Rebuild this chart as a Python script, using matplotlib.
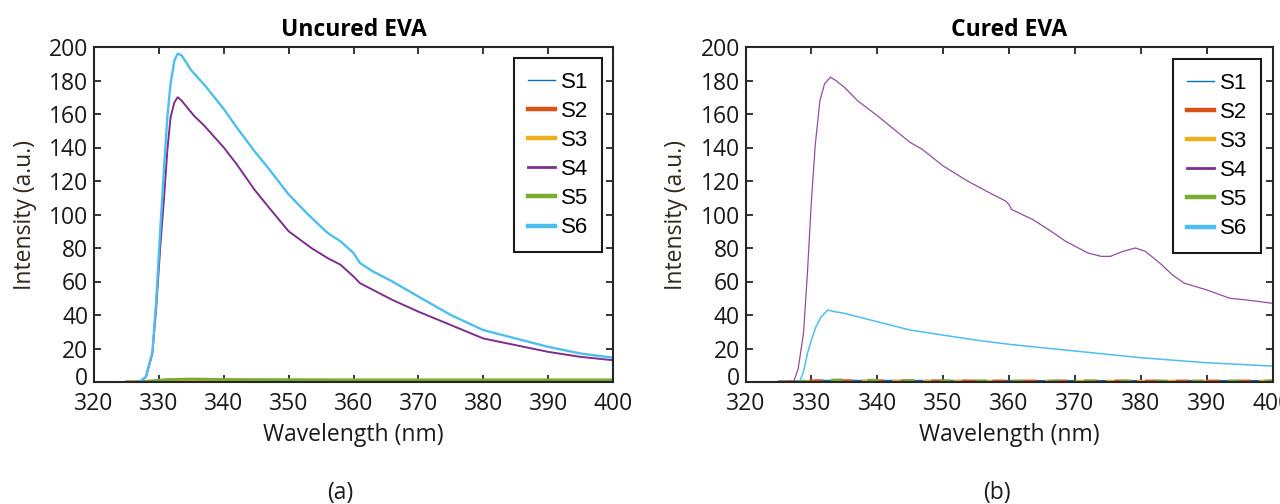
import matplotlib
matplotlib.use("Agg")
import matplotlib.pyplot as plt
from matplotlib.lines import Line2D
from matplotlib.transforms import ScaledTranslation

# ---------------- data ----------------
# Uncured EVA
u_s6_x = [325, 327, 328, 329, 329.6, 330.2, 330.8, 331.3, 331.8, 332.4, 332.9, 333.5, 335, 337.1, 340, 342, 344.7, 347, 350, 353, 356, 358, 360, 361, 363, 366, 370, 375, 380, 385, 390, 395, 400]
u_s6_y = [0, 0, 3, 18, 49, 90, 128, 158, 178, 192, 196, 195, 186, 177, 163, 152, 138, 127, 112, 100, 89, 84, 77, 71, 66, 60, 51, 40, 31, 26, 21, 17, 14.5]
u_s4_x = [325, 327, 328, 329, 329.6, 330.2, 330.8, 331.3, 331.8, 332.4, 332.9, 333.5, 335.4, 337, 340, 342, 344.7, 347, 350, 353.5, 356, 358, 360, 361, 363, 366, 370, 375, 380, 385, 390, 395, 400]
u_s4_y = [0, 0, 3, 17, 45, 80, 110, 138, 158, 167, 170, 168, 159, 153, 140, 130, 115, 104, 90, 80, 74, 70, 63, 59, 55, 49, 42, 34, 26, 22, 18, 15, 13]
u_s1_x = [325, 328, 331, 340, 360, 380, 400]
u_s1_y = [0, 0.3, 0.6, 0.6, 0.5, 0.5, 0.5]
u_s2_x = [325, 328, 331, 340, 360, 380, 400]
u_s2_y = [0, 0.1, 0.2, 0.2, 0.2, 0.2, 0.2]
u_s3_x = [325, 328, 331, 340, 360, 380, 400]
u_s3_y = [0, 0.3, 0.8, 0.9, 0.8, 0.8, 0.8]
u_s5_x = [325, 328, 331, 335, 340, 360, 380, 400]
u_s5_y = [0, 0.4, 1.4, 1.8, 1.5, 1.3, 1.3, 1.3]

# Cured EVA
c_s4_x = [325, 327.3, 328, 328.8, 329.4, 330, 330.6, 331.3, 332, 332.9, 333.7, 335, 337, 340, 342.5, 345, 346.8, 350, 353.7, 357.5, 359.5, 360, 360.4, 363.6, 366, 368.6, 372, 374, 375.4, 377.3, 379.2, 380.7, 382.9, 384.8, 386.6, 390, 393.5, 396, 400]
c_s4_y = [0, 0, 8, 29, 65, 108, 142, 168, 178, 182, 180, 176, 168, 159, 151, 143, 139, 129, 120, 112, 108, 106, 103, 97, 91, 84, 77, 75, 75, 78, 80, 78, 71, 64, 59, 55, 50, 49, 47]
c_s6_x = [325, 328.2, 328.8, 329.4, 330, 330.7, 331.5, 332.5, 333.5, 335, 340, 345, 350, 355, 360, 365, 370, 375, 380, 385, 390, 395, 400]
c_s6_y = [0, 0, 6, 17, 25, 33, 39, 43, 42, 41, 36, 31, 28, 25, 22.5, 20.5, 18.5, 16.5, 14.5, 13, 11.5, 10.5, 9.5]
c_s1_x = [325, 328, 331, 340, 360, 380, 400]
c_s1_y = [0, 0.2, 0.5, 0.5, 0.4, 0.4, 0.4]
c_s2_x = [325, 328, 331, 340, 360, 380, 400]
c_s2_y = [0, 0.3, 0.8, 0.7, 0.6, 0.6, 0.6]
c_s3_x = [325, 328, 331, 340, 360, 380, 400]
c_s3_y = [0, 0.2, 0.6, 0.6, 0.5, 0.5, 0.5]
c_s5_x = [325, 328, 331, 335, 340, 360, 380, 400]
c_s5_y = [0, 0.3, 1.0, 1.3, 1.0, 0.6, 0.6, 0.6]

labels = ["S1", "S2", "S3", "S4", "S5", "S6"]
colors = ["#0072BD", "#D95319", "#EDB120", "#7E2F8E", "#77AC30", "#4DBEEE"]
leg_lw = [1.0, 3.2, 3.2, 2.0, 3.2, 3.2]

xticks = [320, 330, 340, 350, 360, 370, 380, 390, 400]
yticks = [0, 20, 40, 60, 80, 100, 120, 140, 160, 180, 200]

# ---------------- figure ----------------
fig = plt.figure(figsize=(12.8, 5.04), dpi=100)
axL = fig.add_axes([94/1280, 1-382/504, 519/1280, 335/504])
axR = fig.add_axes([745.5/1280, 1-382/504, 527/1280, 335/504])

tickfont = "Open Sans"
axcol = "#262626"
txtcol = "#1a1a1a"

def style(ax, title):
    ax.set_xlim(320, 400)
    ax.set_ylim(0, 200)
    ax.set_xticks(xticks)
    ax.set_yticks(yticks)
    ax.tick_params(direction="in", length=5, width=1.3, top=True, right=True,
                   colors=axcol, labelsize=16.5)
    ax.tick_params(axis="x", pad=7)
    ax.tick_params(axis="y", pad=4)
    for lab in ax.get_xticklabels() + ax.get_yticklabels():
        lab.set_fontfamily(tickfont)
        lab.set_color(txtcol)
    for s in ax.spines.values():
        s.set_linewidth(1.5)
        s.set_color(axcol)
    # the "0" label sits slightly above the axis line, as in the original
    t0 = ax.yaxis.get_major_ticks()[0].label1
    t0.set_transform(t0.get_transform() + ScaledTranslation(0, 4/72, fig.dpi_scale_trans))
    ax.set_title(title, fontfamily="Open Sans", fontweight="bold", fontsize=16.5, pad=8)
    ax.set_xlabel("Wavelength (nm)", fontfamily=tickfont, fontsize=16.5, color=txtcol, labelpad=5)
    ax.set_ylabel("Intensity (a.u.)", fontfamily=tickfont, fontsize=16.5, color="#33261a", labelpad=9)

# Uncured
axL.plot(u_s1_x, u_s1_y, color=colors[0], lw=1.0)
axL.plot(u_s2_x, u_s2_y, color=colors[1], lw=2.0)
axL.plot(u_s3_x, u_s3_y, color=colors[2], lw=2.0)
axL.plot(u_s5_x, u_s5_y, color=colors[4], lw=2.0)
axL.plot(u_s4_x, u_s4_y, color=colors[3], lw=1.4)
axL.plot(u_s6_x, u_s6_y, color=colors[5], lw=1.7)

# Cured
axR.plot(c_s1_x, c_s1_y, color=colors[0], lw=2.0)
axR.plot(c_s2_x, c_s2_y, color=colors[1], lw=2.0, ls=(0, (5, 6)))
axR.plot(c_s3_x, c_s3_y, color=colors[2], lw=2.0, ls=(3, (3, 8)))
axR.plot(c_s5_x, c_s5_y, color=colors[4], lw=2.0, ls=(7, (4, 9)))
axR.plot(c_s4_x, c_s4_y, color=colors[3], lw=0.9, alpha=0.85)
axR.plot(c_s6_x, c_s6_y, color=colors[5], lw=1.1)

style(axL, "Uncured EVA")
style(axR, "Cured EVA")

handles = [Line2D([], [], color=c, lw=w) for c, w in zip(colors, leg_lw)]

for ax, fx, ax_w, anchor in [(axL, 94, 519, (602, 58)), (axR, 745.5, 527, (1261, 59))]:
    bb = ((anchor[0] - fx) / ax_w, (382 - anchor[1]) / 335)
    leg = ax.legend(handles, labels, loc="upper right", bbox_to_anchor=bb,
                    borderaxespad=0, fancybox=False, edgecolor=txtcol,
                    prop={"family": "Liberation Sans", "size": 16},
                    handlelength=1.25, handletextpad=0.25, labelspacing=0.365,
                    borderpad=0.62, framealpha=1)
    leg.get_frame().set_linewidth(1.5)

fig.text(340/1280, 1-493/504, "(a)", fontfamily=tickfont, fontsize=16.5, ha="center", va="center", color=txtcol)
fig.text(997/1280, 1-493/504, "(b)", fontfamily=tickfont, fontsize=16.5, ha="center", va="center", color=txtcol)

fig.savefig("out.png", dpi=100)
